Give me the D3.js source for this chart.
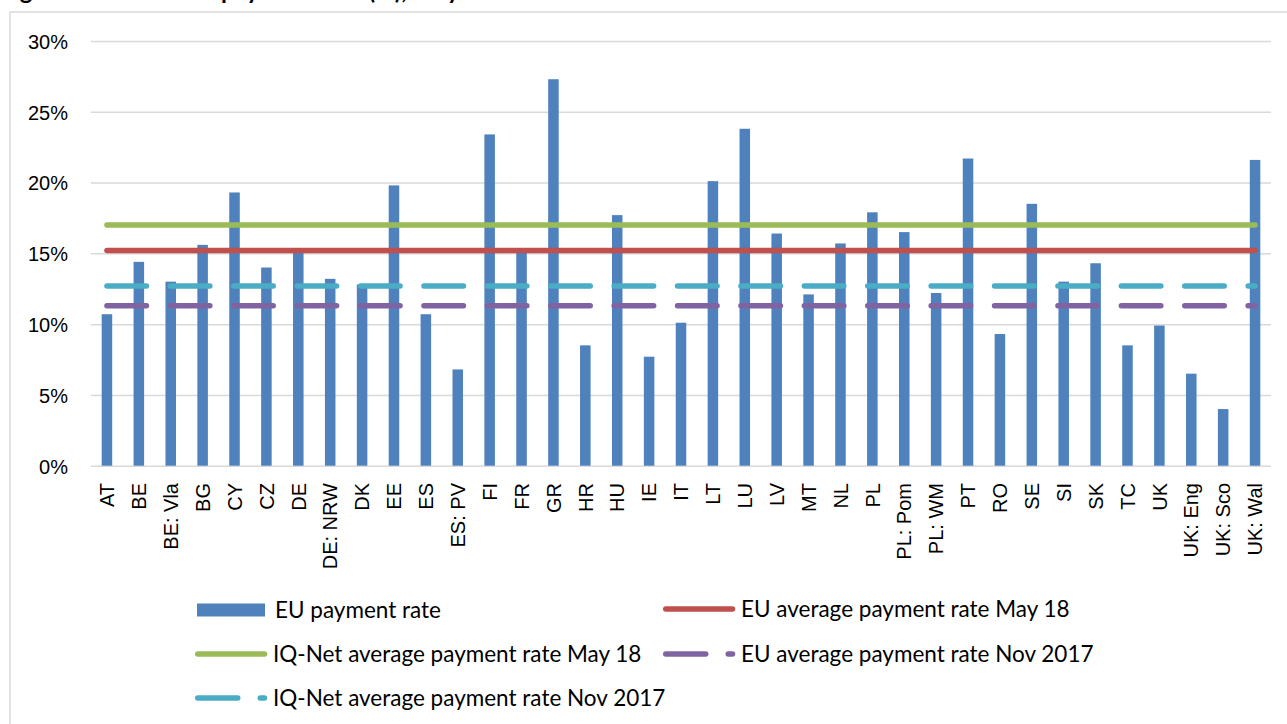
<!DOCTYPE html>
<html>
<head>
<meta charset="utf-8">
<script src="https://cdn.jsdelivr.net/npm/d3@7"></script>
<style>
  body { margin: 0; background: #fff; }
  svg { display: block; }
</style>
</head>
<body>
<script>
'use strict';

// categories (countries / regions) on the x axis
const categories = ["AT", "BE", "BE: Vla", "BG", "CY", "CZ", "DE", "DE: NRW", "DK", "EE",
  "ES", "ES: PV", "FI", "FR", "GR", "HR", "HU", "IE", "IT", "LT", "LU", "LV", "MT", "NL",
  "PL", "PL: Pom", "PL: WM", "PT", "RO", "SE", "SI", "SK", "TC", "UK", "UK: Eng", "UK: Sco", "UK: Wal"];

// EU payment rate per category (fraction)
const paymentRate = [0.107, 0.144, 0.130, 0.156, 0.193, 0.140, 0.151, 0.132, 0.128, 0.198,
  0.107, 0.068, 0.234, 0.151, 0.273, 0.085, 0.177, 0.077, 0.101, 0.201, 0.238, 0.164, 0.121, 0.157,
  0.179, 0.165, 0.122, 0.217, 0.093, 0.185, 0.130, 0.143, 0.085, 0.099, 0.065, 0.040, 0.216];

// reference averages
const euAvgMay18 = 0.152;
const iqNetAvgMay18 = 0.170;
const euAvgNov17 = 0.113;
const iqNetAvgNov17 = 0.127;

const yTicks = [0, 0.05, 0.10, 0.15, 0.20, 0.25, 0.30];

const seriesNames = ["EU payment rate", "EU average payment rate May 18",
  "IQ-Net average payment rate May 18", "EU average payment rate Nov 2017",
  "IQ-Net average payment rate Nov 2017"];

// title pieces (only the bottom edge shows in the picture)
const titleParts = ["Figure 1: Overall EU", "payment rate (%), May 2018"];

(function() {

  let svgContainer = "";

  window.onload = function() {
    svgContainer = d3.select('body')
      .append('svg')
      .attr('width', 1287)
      .attr('height', 724);

    // chart title, cut off at the top edge like the reference
    svgContainer.append('text')
      .attr('x', 214)
      .attr('y', -1.5)
      .style('text-anchor', 'end')
      .style('font-family', 'Lato, sans-serif')
      .style('font-weight', 'bold')
      .style('font-size', '24px')
      .text(titleParts[0]);
    svgContainer.append('text')
      .attr('x', 221)
      .attr('y', -1.5)
      .style('font-family', 'Lato, sans-serif')
      .style('font-weight', 'bold')
      .style('font-size', '24px')
      .text(titleParts[1]);

    // chart area border (runs off the right / bottom of the picture)
    svgContainer.append('rect')
      .attr('x', 10)
      .attr('y', 12)
      .attr('width', 1300)
      .attr('height', 730)
      .attr('fill', 'none')
      .attr('stroke', '#d9d9d9')
      .attr('stroke-width', 1.5);

    let scales = drawAxes();
    drawBars(scales);
    drawLines(scales);
    drawLegend();
  }

  function drawAxes() {
    let xScale = d3.scaleBand()
      .domain(categories)
      .range([91, 1271])
      .paddingInner(0.67)
      .paddingOuter(0.335);

    let yScale = d3.scaleLinear()
      .domain([0, 0.30])
      .range([465.7, 41]);

    // gridlines
    let yGrid = d3.axisLeft(yScale)
      .tickValues(yTicks)
      .tickSize(-(1271 - 91))
      .tickFormat('');
    let grid = svgContainer.append('g')
      .attr('transform', 'translate(91, 0)')
      .call(yGrid);
    grid.select('.domain').remove();
    grid.selectAll('.tick line')
      .attr('stroke', '#d9d9d9')
      .attr('stroke-width', 1.5);

    // y labels
    let yAxis = d3.axisLeft(yScale)
      .tickValues(yTicks)
      .tickSize(0)
      .tickPadding(0)
      .tickFormat(d3.format('.0%'));
    let yG = svgContainer.append('g')
      .attr('transform', 'translate(68, 0)')
      .call(yAxis);
    yG.select('.domain').remove();
    yG.selectAll('text')
      .attr('fill', '#000')
      .attr('dy', '0.37em')
      .style('font-family', '"Liberation Sans", Arial, sans-serif')
      .style('font-size', '20px');

    // x labels, rotated
    let xAxis = d3.axisBottom(xScale).tickSize(0).tickPadding(0);
    let xG = svgContainer.append('g')
      .attr('transform', 'translate(0, 483)')
      .call(xAxis);
    xG.select('.domain').remove();
    xG.selectAll('text')
      .attr('fill', '#000')
      .attr('transform', 'rotate(-90)')
      .attr('x', 0)
      .attr('y', 0)
      .attr('dy', '0.36em')
      .style('text-anchor', 'end')
      .style('font-family', '"Liberation Sans", Arial, sans-serif')
      .style('font-size', '20px');

    return { x: xScale, y: yScale };
  }

  function drawBars(scales) {
    let data = categories.map((c, i) => ({ cat: c, value: paymentRate[i] }));
    svgContainer.append('g').selectAll('rect')
      .data(data)
      .enter()
      .append('rect')
        .attr('x', (d) => scales.x(d.cat))
        .attr('y', (d) => scales.y(d.value))
        .attr('width', scales.x.bandwidth())
        .attr('height', (d) => scales.y(0) - scales.y(d.value))
        .attr('fill', '#4f81bd');
  }

  function drawLines(scales) {
    let half = scales.x.bandwidth() / 2;
    let series = [
      { value: iqNetAvgNov17, color: '#4bacc6', dash: '39.5,23.9' },
      { value: euAvgNov17, color: '#8064a2', dash: '39.5,23.9' },
      { value: euAvgMay18, color: '#c0504d', dash: null },
      { value: iqNetAvgMay18, color: '#9bbb59', dash: null }
    ];
    let line = d3.line()
      .x((d) => scales.x(d.cat) + half)
      .y((d) => scales.y(d.value));

    series.forEach((s) => {
      let pts = categories.map((c) => ({ cat: c, value: s.value }));
      svgContainer.append('path')
        .datum(pts)
        .attr('d', line)
        .attr('fill', 'none')
        .attr('stroke', s.color)
        .attr('stroke-width', 5.5)
        .attr('stroke-linecap', 'round')
        .attr('stroke-dasharray', s.dash);
    });
  }

  function drawLegend() {
    let lg = svgContainer.append('g');
    let font = 'Lato, "Open Sans", sans-serif';

    let items = [
      { type: 'bar', color: '#4f81bd', x: 197, y: 610, name: 0 },
      { type: 'solid', color: '#c0504d', x: 663, y: 609, name: 1 },
      { type: 'solid', color: '#9bbb59', x: 195, y: 654, name: 2 },
      { type: 'dash', color: '#8064a2', x: 663, y: 654, name: 3 },
      { type: 'dash', color: '#4bacc6', x: 195, y: 698, name: 4 }
    ];

    items.forEach((it) => {
      if (it.type === 'bar') {
        lg.append('rect')
          .attr('x', it.x)
          .attr('y', it.y - 6.5)
          .attr('width', 68)
          .attr('height', 13)
          .attr('fill', it.color);
      } else {
        lg.append('line')
          .attr('x1', it.x + 2.75)
          .attr('x2', it.x + 69.5)
          .attr('y1', it.y)
          .attr('y2', it.y)
          .attr('stroke', it.color)
          .attr('stroke-width', 5.5)
          .attr('stroke-linecap', 'round')
          .attr('stroke-dasharray', it.type === 'dash' ? '40,22.5' : null);
      }
      lg.append('text')
        .attr('x', it.x + 78)
        .attr('y', it.y + 7.5)
        .style('font-family', font)
        .style('font-size', '22.5px')
        .attr('fill', '#000')
        .text(seriesNames[it.name]);
    });
  }

})();
</script>
</body>
</html>
